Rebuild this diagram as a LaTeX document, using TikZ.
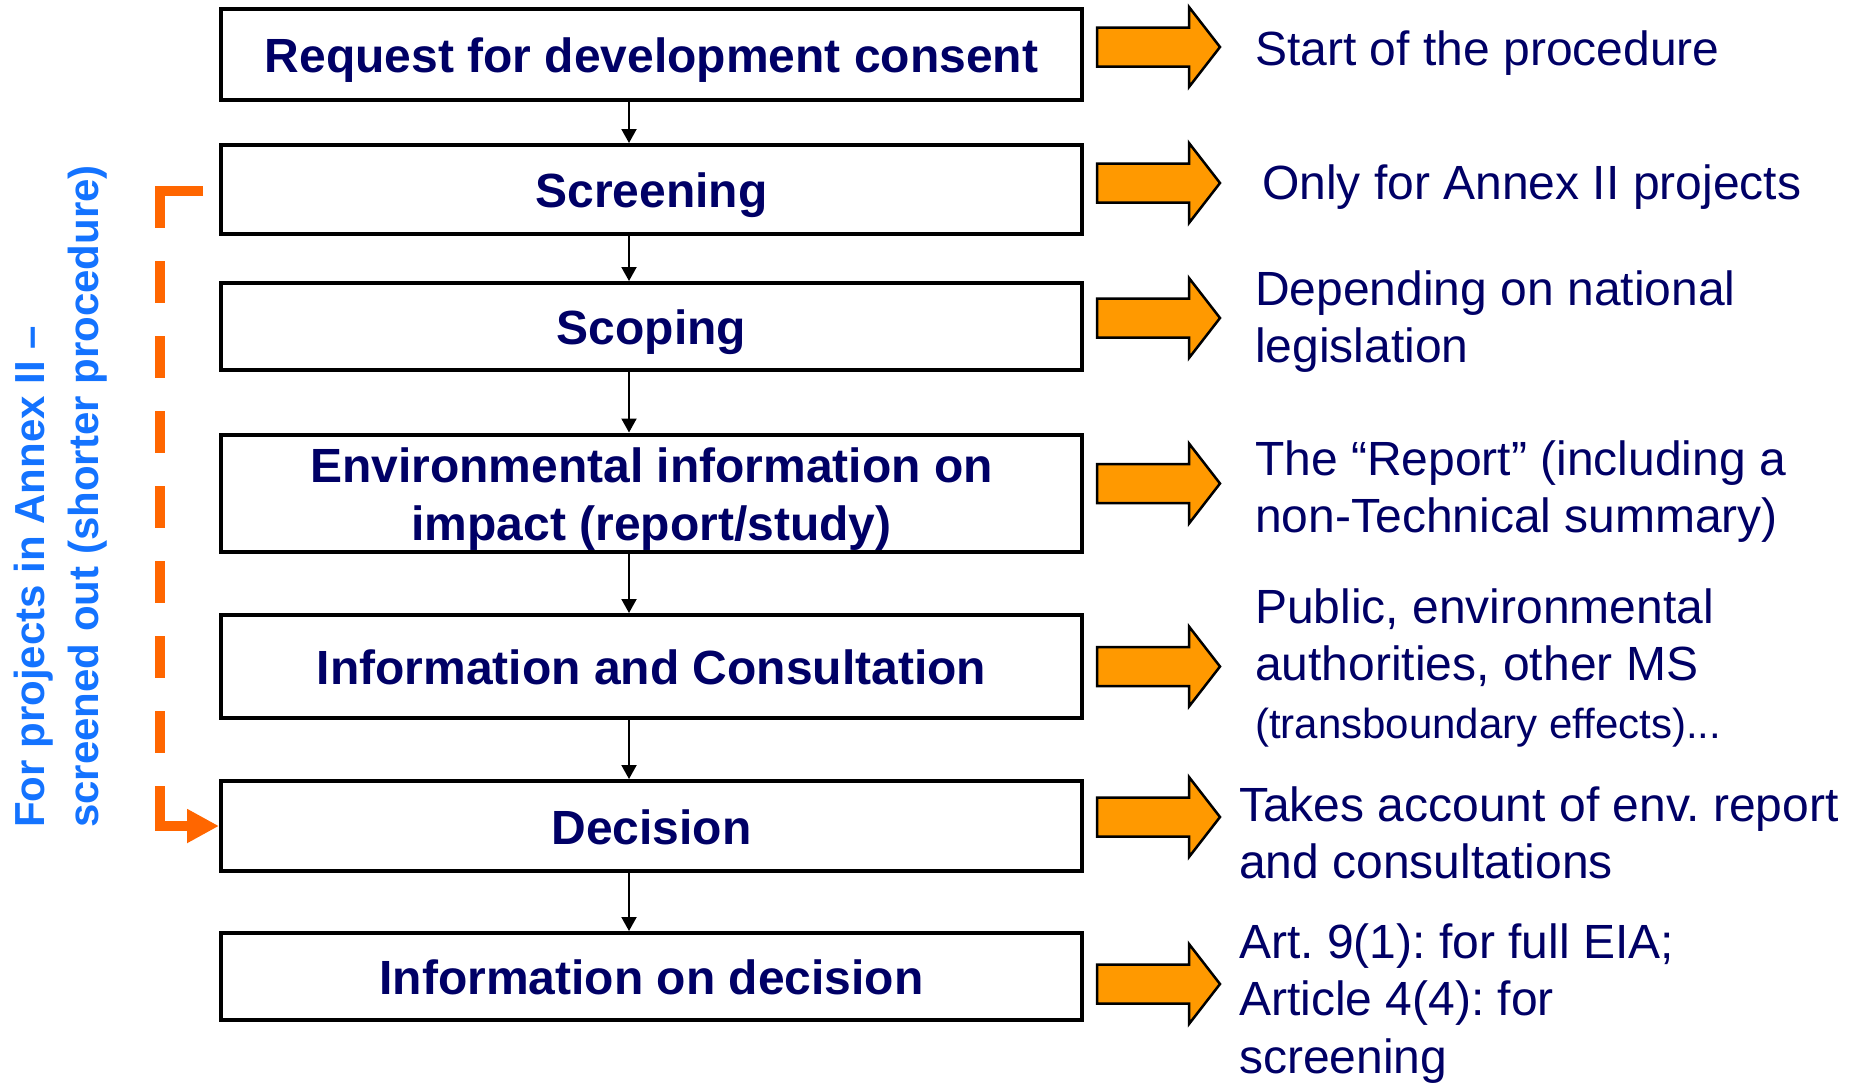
\documentclass[tikz,border=0pt]{standalone}
\usepackage{fontspec}
\setmainfont{Liberation Sans}
\usetikzlibrary{arrows.meta,calc}
\definecolor{navy}{RGB}{0,0,102}
\definecolor{arrorange}{RGB}{255,153,0}
\definecolor{brorange}{RGB}{255,102,0}
\definecolor{noteblue}{RGB}{20,115,255}
\frenchspacing
\newcommand\orangearrow[1]{%
  \draw[oarrow] (1097,#1-19.5) -- (1189,#1-19.5) -- (1189,#1-40) -- (1220,#1)
    -- (1189,#1+40) -- (1189,#1+19.5) -- (1097,#1+19.5) -- cycle;}
\begin{document}
\begin{tikzpicture}[x=1pt,y=-1pt,
  stepbox/.style={draw=black, line width=4pt, minimum width=861pt, inner sep=0pt,
    font=\fontsize{48}{57.5}\selectfont\bfseries, text=navy, align=center},
  onel/.style={text height=42pt, text depth=6pt},
  conn/.style={line width=2pt, -{Triangle[length=14pt,width=15pt]}},
  oarrow/.style={draw=black, line width=2.5pt, fill=arrorange, line join=miter},
  rtext/.style={inner sep=0pt, anchor=north west, align=left, text=navy,
    font=\fontsize{48}{57.5}\selectfont},
  note/.style={inner sep=0pt, rotate=90, anchor=base west, text=noteblue,
    font=\fontsize{42}{52}\selectfont\bfseries},
  bline/.style={draw=brorange, line width=10pt, line cap=butt}]
\path[fill=white, use as bounding box] (0,0) rectangle (1863,1085);

% main boxes
\node[stepbox, onel, minimum height=91pt]  (req)  at (651.5,54.5)  {Request for development consent};
\node[stepbox, onel, minimum height=89pt]  (scr)  at (651.5,189.5) {Screening};
\node[stepbox, onel, minimum height=87pt]  (scp)  at (651.5,326.5) {Scoping};
\node[stepbox, minimum height=117pt]       (env)  at (651.5,493)   {\rule{0pt}{47pt}Environmental information on\\impact (report/study)};
\node[stepbox, onel, minimum height=103pt] (cons) at (651.5,666.5) {Information and Consultation};
\node[stepbox, onel, minimum height=90pt]  (dec)  at (651.5,826)   {Decision};
\node[stepbox, onel, minimum height=87pt]  (infd) at (651.5,976.5) {Information on decision};

% connectors
\coordinate (cx) at (629,0);
\draw[conn] (req.south -| cx)  -- (scr.north -| cx);
\draw[conn] (scr.south -| cx)  -- (scp.north -| cx);
\draw[conn] (scp.south -| cx)  -- (env.north -| cx);
\draw[conn] (env.south -| cx)  -- (cons.north -| cx);
\draw[conn] (cons.south -| cx) -- (dec.north -| cx);
\draw[conn] (dec.south -| cx)  -- (infd.north -| cx);

% orange arrows
\orangearrow{47}
\orangearrow{183}
\orangearrow{318}
\orangearrow{483.5}
\orangearrow{666.5}
\orangearrow{817}
\orangearrow{984}

% right texts
\node[rtext] (t1) at (1255,24.75)  {\strut Start of the procedure};
\node[rtext] (t2) at (1262,158.75) {\strut Only for Annex II projects};
\node[rtext] (t3) at (1255,264.75) {\strut Depending on national\\\strut legislation};
\node[rtext] (t4) at (1255,434.75) {\strut The “Report” (including a\\\strut non-Technical summary)};
\node[rtext] (t5) at (1255,582.75) {\strut Public, environmental\\\strut authorities, other MS\\{\fontsize{42}{57.5}\selectfont\strut(transboundary effects)...}};
\node[rtext] (t6) at (1239,780.75) {\strut Takes account of env. report\\\strut and consultations};
\node[rtext] (t7) at (1239,917.75) {\strut Art. 9(1): for full EIA;\\\strut Article 4(4): for\\\strut screening};

% dashed bracket (screened out)
\coordinate (bs) at (203,191);
\coordinate (bc) at (160,191);
\draw[bline] (bs) -- ($(bc)+(-5,0)$);
\draw[bline, dash pattern=on 42pt off 33pt] ($(bc)+(0,-5)$) -- (bc |- dec.west);
\draw[bline, -{Triangle[length=32pt,width=32pt]}, brorange] ($(bc |- dec.west)+(-5,0)$) -- (dec.west);

% rotated note
\node[note] (note1) at (44.5,828) {For projects in Annex II –};
\node[note] (note2) at (98,828)   {screened out (shorter procedure)};
\end{tikzpicture}
\end{document}
